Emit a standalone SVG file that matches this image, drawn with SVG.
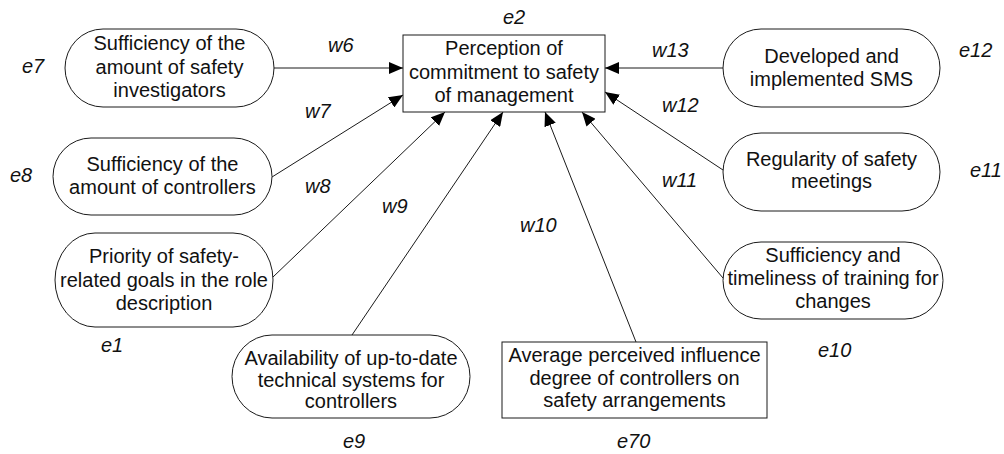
<svg xmlns="http://www.w3.org/2000/svg" width="1004" height="454" viewBox="0 0 1004 454">
  <style>
    .node { fill: #ffffff; stroke: #1a1a1a; stroke-width: 1; }
    .label { font-family: "Liberation Sans", Arial, sans-serif; font-size: 20px; fill: #111111; text-anchor: middle; }
    .coef { font-family: "Liberation Sans", Arial, sans-serif; font-size: 20px; font-style: italic; fill: #111111; }
    .edge { stroke: #1a1a1a; stroke-width: 1; fill: none; marker-end: url(#arrow); }
  </style>
  <defs>
    <marker id="arrow" markerUnits="userSpaceOnUse" markerWidth="14" markerHeight="12" viewBox="0 0 14 12" refX="14" refY="6" orient="auto">
      <path d="M0,0 L14,6 L0,12 Z" fill="#000000"/>
    </marker>
  </defs>
  <rect width="1004" height="454" fill="#ffffff"/>

  <!-- connectors -->
  <g id="connectors">
    <line class="edge" x1="274" y1="68" x2="403" y2="68"/>
    <line class="edge" x1="272" y1="177" x2="403" y2="95"/>
    <line class="edge" x1="273" y1="277" x2="445" y2="112"/>
    <line class="edge" x1="352" y1="335" x2="503" y2="112"/>
    <line class="edge" x1="636" y1="342" x2="545" y2="112"/>
    <line class="edge" x1="723" y1="278" x2="582" y2="112"/>
    <line class="edge" x1="723" y1="170" x2="605" y2="92"/>
    <line class="edge" x1="723" y1="68" x2="605" y2="68"/>
  </g>

  <!-- central construct -->
  <g id="commitment">
    <rect class="node" x="403" y="35" width="202" height="77"/>
    <text class="label" x="504" y="55">Perception of</text>
    <text class="label" x="504" y="79">commitment to safety</text>
    <text class="label" x="504" y="102">of management</text>
  </g>

  <g id="investigators">
    <rect class="node" x="65" y="29" width="209" height="78" rx="38" ry="39"/>
    <text class="label" x="169.5" y="50">Sufficiency of the</text>
    <text class="label" x="169.5" y="74">amount of safety</text>
    <text class="label" x="169.5" y="97">investigators</text>
  </g>

  <g id="controllers">
    <rect class="node" x="53" y="138" width="219" height="77" rx="38" ry="38.5"/>
    <text class="label" x="162.5" y="171">Sufficiency of the</text>
    <text class="label" x="162.5" y="194">amount of controllers</text>
  </g>

  <g id="priority">
    <rect class="node" x="55" y="233" width="218" height="94" rx="40" ry="47"/>
    <text class="label" x="164" y="263">Priority of safety-</text>
    <text class="label" x="164" y="287">related goals in the role</text>
    <text class="label" x="164" y="310">description</text>
  </g>

  <g id="systems">
    <rect class="node" x="232" y="335" width="238" height="83" rx="40" ry="41.5"/>
    <text class="label" x="351" y="365">Availability of up-to-date</text>
    <text class="label" x="351" y="387">technical systems for</text>
    <text class="label" x="351" y="408">controllers</text>
  </g>

  <g id="influence">
    <rect class="node" x="502" y="342" width="265" height="76"/>
    <text class="label" x="634.5" y="362">Average perceived influence</text>
    <text class="label" x="634.5" y="385">degree of controllers on</text>
    <text class="label" x="634.5" y="407">safety arrangements</text>
  </g>

  <g id="sms">
    <rect class="node" x="723" y="29" width="217" height="78" rx="38" ry="39"/>
    <text class="label" x="831.5" y="63">Developed and</text>
    <text class="label" x="831.5" y="86">implemented SMS</text>
  </g>

  <g id="meetings">
    <rect class="node" x="723" y="133" width="217" height="78" rx="38" ry="39"/>
    <text class="label" x="831.5" y="166">Regularity of safety</text>
    <text class="label" x="831.5" y="188">meetings</text>
  </g>

  <g id="training">
    <rect class="node" x="723" y="242" width="220" height="77" rx="38" ry="38.5"/>
    <text class="label" x="833" y="262">Sufficiency and</text>
    <text class="label" x="833" y="285">timeliness of training for</text>
    <text class="label" x="833" y="308">changes</text>
  </g>

  <!-- error terms and path weights -->
  <g id="coefficients">
    <text class="coef" x="503" y="24">e2</text>
    <text class="coef" x="22" y="73">e7</text>
    <text class="coef" x="10" y="182">e8</text>
    <text class="coef" x="101" y="352">e1</text>
    <text class="coef" x="343" y="448">e9</text>
    <text class="coef" x="617" y="448">e70</text>
    <text class="coef" x="818" y="357">e10</text>
    <text class="coef" x="970" y="177">e11</text>
    <text class="coef" x="959" y="57">e12</text>
    <text class="coef" x="328" y="52">w6</text>
    <text class="coef" x="305" y="118">w7</text>
    <text class="coef" x="305" y="193">w8</text>
    <text class="coef" x="382" y="213">w9</text>
    <text class="coef" x="520" y="232">w10</text>
    <text class="coef" x="662" y="187">w11</text>
    <text class="coef" x="662" y="112">w12</text>
    <text class="coef" x="652" y="57">w13</text>
  </g>
</svg>
